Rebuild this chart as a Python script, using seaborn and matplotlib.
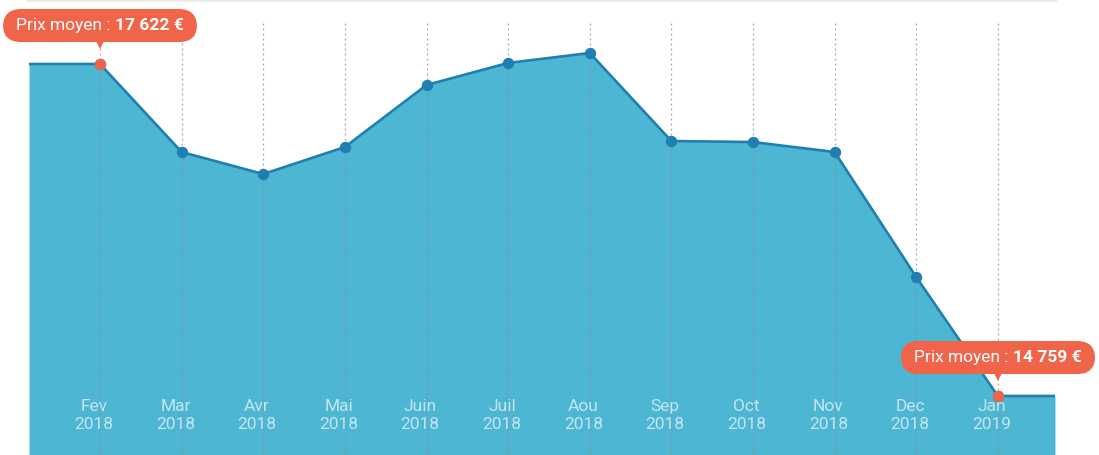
import numpy as np
import pandas as pd
import seaborn as sns
import matplotlib
matplotlib.use("Agg")
import matplotlib.pyplot as plt
from matplotlib.offsetbox import TextArea, HPacker, AnnotationBbox, DrawingArea
from matplotlib.transforms import offset_copy

months = ["Fev", "Mar", "Avr", "Mai", "Juin", "Juil", "Aou", "Sep", "Oct", "Nov", "Dec", "Jan"]
years = ["2018"] * 11 + ["2019"]
prices = [17622, 16863, 16673, 16906, 17441, 17631, 17717, 16958, 16949, 16863, 15785, 14759]
highlight = ["Fev", "Jan"]
tooltip_texts = ["17 622 €", "14 759 €"]

FILL = "#4db6d3"
LINE = "#1f7fb0"
ORANGE = "#f0654a"
LABEL = "#c4e5ee"

sns.set_theme(style="white")
plt.rcParams["font.family"] = ["Roboto", "DejaVu Sans"]

df = pd.DataFrame({"month": months, "year": years, "price": prices})
df["x"] = np.arange(len(df))

fig = plt.figure(figsize=(10.99, 4.55), dpi=100)
ax = fig.add_axes([29 / 1099, 0, 1026 / 1099, 1])
xlim = (-0.870, 11.70)
ylim = (14250, 18174)
ax.set_xlim(*xlim)
ax.set_ylim(*ylim)

# area
xe = np.r_[xlim[0], df["x"].values, xlim[1]]
ye = np.r_[df["price"].values[0], df["price"].values, df["price"].values[-1]]
ax.fill_between(xe, ye, ylim[0], color=FILL, lw=0, zorder=1)

# dotted verticals
ax.vlines(df["x"], 0, 1 - 20 / 455, transform=ax.get_xaxis_transform(),
          colors="#8a8a8a", linestyles=(0, (1.5, 2.5)), lw=0.9, alpha=0.75, zorder=2)

# line
ax.plot(xe, ye, color=LINE, lw=1.9, zorder=3, solid_joinstyle="round")
sns.lineplot(data=df, x="x", y="price", ax=ax, color=LINE, lw=0, marker="o",
             markersize=8.2, markeredgewidth=0, zorder=4, legend=False)
hl = df[df["month"].isin(highlight) & ((df.index == 0) | (df.index == len(df) - 1))]
ax.plot(hl["x"], hl["price"], "o", color=ORANGE, markersize=8.2, mew=0, zorder=5)

# x labels inside area (slightly left of the guide lines, as in the reference)
lab_tr = offset_copy(ax.get_xaxis_transform(), fig=fig, x=-4.5, y=0, units="points")
for xi, m, yr in zip(df["x"], df["month"], df["year"]):
    ax.text(xi, 1 - 406.5 / 455, m, transform=lab_tr, ha="center",
            va="center", color=LABEL, fontsize=12.5, zorder=6)
    ax.text(xi, 1 - 424.5 / 455, yr, transform=lab_tr, ha="center",
            va="center", color=LABEL, fontsize=12.5, zorder=6)

# tooltips
for (_, row), val in zip(hl.iterrows(), tooltip_texts):
    t1 = TextArea("Prix moyen : ", textprops=dict(color="white", fontsize=12.5))
    t2 = TextArea(val, textprops=dict(color="white", fontsize=12.5, fontweight="bold"))
    box = HPacker(children=[DrawingArea(3.0, 0), t1, t2, DrawingArea(3.0, 0)],
                  align="baseline", pad=6.4, sep=0)
    ab = AnnotationBbox(box, (row["x"], row["price"]), xybox=(0, 27.7),
                        xycoords="data", boxcoords="offset points", frameon=True,
                        pad=0, fontsize=10, box_alignment=(0.5, 0.5),
                        bboxprops=dict(boxstyle="round,pad=0,rounding_size=1.25",
                                       fc=ORANGE, ec="none"), zorder=7)
    ax.add_artist(ab)
    tr = offset_copy(ax.transData, fig=fig, x=0, y=15.5, units="points")
    ax.plot([row["x"]], [row["price"]], marker="v", color=ORANGE, markersize=9.5,
            mew=0, transform=tr, zorder=7, clip_on=False)

for s in ["left", "right", "bottom"]:
    ax.spines[s].set_visible(False)
ax.spines["top"].set_color("#ebebeb")
ax.spines["top"].set_linewidth(3)
ax.set_xticks([])
ax.set_yticks([])
ax.set_xlabel("")
ax.set_ylabel("")

fig.savefig("out.png", dpi=100)
